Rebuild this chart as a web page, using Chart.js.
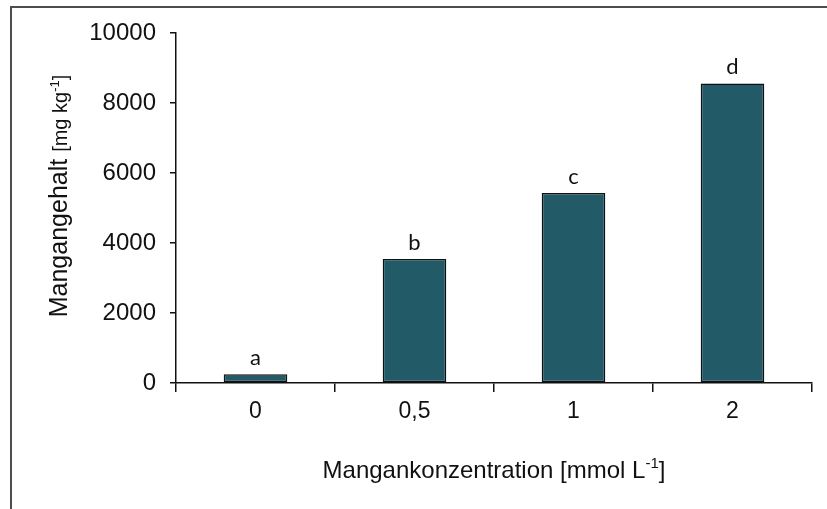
<!DOCTYPE html>
<html>
<head>
<meta charset="utf-8">
<script src="https://cdn.jsdelivr.net/npm/chart.js@4.4.0/dist/chart.umd.min.js"></script>
<style>
  body { margin: 0; background: #fff; }
  canvas { display: block; }
</style>
</head>
<body>
<canvas id="myChart" width="827" height="509"></canvas>
<script>
const concentrations = ["0", "0,5", "1", "2"];
const manganContent = [250, 3540, 5430, 8560];
const sigLetters = ["a", "b", "c", "d"];
const yTicks = [0, 2000, 4000, 6000, 8000, 10000];

const barColor = "#235a68";
const fontMain = "'Liberation Sans', Arial, sans-serif";

// frame, titles and significance letters
const extras = {
  id: "extras",
  afterDraw: (chart) => {
    const ctx = chart.ctx;
    const area = chart.chartArea;
    ctx.save();

    ctx.strokeStyle = "#4d4d4d";
    ctx.lineWidth = 2;
    ctx.strokeRect(11, 7, 900, 600);

    // letters above bars
    const meta = chart.getDatasetMeta(0);
    ctx.fillStyle = "#111";
    ctx.font = "22px Lato, 'Open Sans', sans-serif";
    ctx.textAlign = "center";
    ctx.textBaseline = "alphabetic";
    meta.data.forEach((bar, i) => {
      ctx.fillText(sigLetters[i], bar.x, bar.y - 9);
    });

    // titles with superscript
    const drawTitle = (x, y, parts) => {
      let w = 0;
      parts.forEach((p) => {
        ctx.font = p.font;
        w += ctx.measureText(p.text).width;
      });
      let cx = x - w / 2;
      ctx.textAlign = "left";
      parts.forEach((p) => {
        ctx.font = p.font;
        ctx.fillText(p.text, cx, y + (p.dy || 0));
        cx += ctx.measureText(p.text).width;
      });
    };

    ctx.fillStyle = "#111";
    drawTitle((area.left + area.right) / 2, 478, [
      { text: "Mangankonzentration [mmol L", font: "24px " + fontMain },
      { text: "-1", font: "15px " + fontMain, dy: -10 },
      { text: "]", font: "24px " + fontMain },
    ]);

    ctx.translate(67, 196);
    ctx.rotate(-Math.PI / 2);
    drawTitle(0, 0, [
      { text: "Mangangehalt ", font: "25px " + fontMain },
      { text: "[mg kg", font: "20px " + fontMain },
      { text: "-1", font: "13px " + fontMain, dy: -8 },
      { text: "]", font: "20px " + fontMain },
    ]);

    ctx.restore();
  },
};

const data = {
  labels: concentrations,
  datasets: [
    {
      label: "Mangangehalt",
      data: manganContent,
      backgroundColor: barColor,
      borderColor: "#111",
      borderWidth: 1.5,
      borderSkipped: false,
      barPercentage: 0.4,
      categoryPercentage: 1,
    },
  ],
};

const config = {
  type: "bar",
  data: data,
  plugins: [extras],
  options: {
    responsive: false,
    animation: false,
    layout: { padding: { top: 33, right: 15, left: 0, bottom: 0 } },
    plugins: {
      legend: { display: false },
      tooltip: { enabled: false },
    },
    scales: {
      x: {
        grid: {
          offset: true,
          drawOnChartArea: false,
          tickLength: 9,
          color: "#111",
          lineWidth: 1.5,
        },
        border: { color: "#111", width: 1.5 },
        ticks: {
          color: "#111",
          font: { family: fontMain, size: 23 },
          padding: 6,
        },
        afterFit: (scale) => {
          scale.height = 126;
        },
      },
      y: {
        min: 0,
        max: 10000,
        afterBuildTicks: (scale) => {
          scale.ticks = yTicks.map((v) => ({ value: v }));
        },
        grid: {
          drawOnChartArea: false,
          tickLength: 6,
          color: "#111",
          lineWidth: 1.5,
        },
        border: { color: "#111", width: 1.5 },
        ticks: {
          color: "#111",
          font: { family: fontMain, size: 24 },
          padding: 14,
          callback: (v) => String(v),
        },
        afterFit: (scale) => {
          scale.width = 176;
        },
      },
    },
  },
};

const myChart = new Chart(document.getElementById("myChart"), config);
</script>
</body>
</html>
